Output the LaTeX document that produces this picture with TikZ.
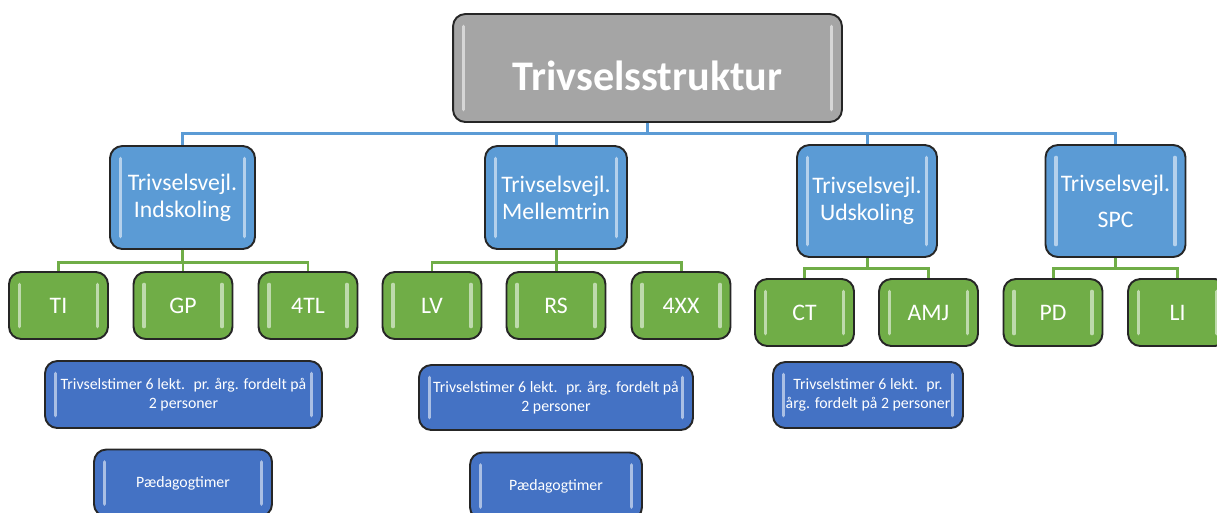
\documentclass[tikz,border=0pt]{standalone}
\usepackage{fontspec}
\setmainfont{Carlito}
\usetikzlibrary{positioning}
\definecolor{topgray}{HTML}{A5A5A5}
\definecolor{vejlblue}{HTML}{5B9BD5}
\definecolor{persgreen}{HTML}{70AD47}
\definecolor{timeblue}{HTML}{4472C4}
\tikzset{
  box/.style={draw=black!85, line width=1.1pt, rounded corners=7pt, align=center,
    text=white, inner sep=0pt,
    path picture={
      \draw[white, opacity=.55, line width=1.8pt, line cap=round]
        ([xshift=6pt,yshift=-7pt]path picture bounding box.north west)
          -- ([xshift=6pt,yshift=7pt]path picture bounding box.south west)
        ([xshift=-6pt,yshift=-7pt]path picture bounding box.north east)
          -- ([xshift=-6pt,yshift=7pt]path picture bounding box.south east);}},
  topbox/.style={box, fill=topgray, minimum width=7.78cm, minimum height=2.16cm,
    font=\fontsize{24}{28}\selectfont\bfseries, text height=25.7pt, text depth=0pt},
  vejlbox/.style={box, fill=vejlblue, font=\fontsize{13.5}{15.5}\selectfont},
  persbox/.style={box, fill=persgreen, minimum width=1.98cm, minimum height=1.34cm,
    font=\fontsize{13.5}{16}\selectfont},
  timebox/.style={box, fill=timeblue, minimum height=1.34cm,
    font=\fontsize{9}{10.5}\selectfont},
  bluelink/.style={draw=vejlblue, line width=1.7pt},
  greenlink/.style={draw=persgreen, line width=1.7pt}
}
\begin{document}
\begin{tikzpicture}[x=0.02cm, y=-0.02cm]
  \useasboundingbox (0,0) rectangle (1217,512);
  \clip (0,0) rectangle (1217,512);

  % top
  \node[topbox] (top) at (647.5,68) {Trivselsstruktur};
  \path (top.south) ++(0,11) coordinate (hub);

  % trivselsvejledere
  \node[vejlbox, minimum width=2.9cm, minimum height=2.06cm] (ind) at (182.5,197.5)
    {Trivselsvejl.\\Indskoling};
  \node[vejlbox, minimum width=2.84cm, minimum height=2.06cm] (mel) at (556,197.5)
    {Trivselsvejl.\\Mellemtrin};
  \node[vejlbox, minimum width=2.8cm, minimum height=2.24cm] (uds) at (867,201)
    {Trivselsvejl.\\Udskoling};
  \node[vejlbox, minimum width=2.8cm, minimum height=2.24cm] (spc) at (1115.5,201)
    {Trivselsvejl.\\[5pt]SPC};
  \foreach \v in {ind,mel,uds,spc}
    \draw[bluelink] (top.south) -- (hub) -| (\v.north);

  % personer
  \node[persbox] (ti) at (58.5,305.5) {TI};
  \node[persbox] (gp) at (183,305.5) {GP};
  \node[persbox] (tl) at (308,305.5) {4TL};
  \node[persbox] (lv) at (432,305.5) {LV};
  \node[persbox] (rs) at (556,305.5) {RS};
  \node[persbox] (xx) at (681,305.5) {4XX};
  \node[persbox] (ct) at (804.5,312.5) {CT};
  \node[persbox] (amj) at (928.5,312.5) {AMJ};
  \node[persbox] (pd) at (1053,312.5) {PD};
  \node[persbox] (li) at (1177.5,312.5) {LI};
  \foreach \p in {ti,gp,tl}
    \draw[greenlink] (ind.south) -- ++(0,13) -| (\p.north);
  \foreach \p in {lv,rs,xx}
    \draw[greenlink] (mel.south) -- ++(0,13) -| (\p.north);
  \foreach \p in {ct,amj}
    \draw[greenlink] (uds.south) -- ++(0,11) -| (\p.north);
  \foreach \p in {pd,li}
    \draw[greenlink] (spc.south) -- ++(0,11) -| (\p.north);

  % timer
  \node[timebox, minimum width=5.54cm] (indtimer) at (183.5,394.5)
    {Trivselstimer 6 lekt.~ pr. årg. fordelt på\\2 personer};
  \node[timebox, minimum width=3.56cm] (indpaed) at (183,483) {Pædagogtimer};
  \node[timebox, minimum width=5.48cm, minimum height=1.3cm] (meltimer) at (556,397.5)
    {Trivselstimer 6 lekt.~ pr. årg. fordelt på\\2 personer};
  \node[timebox, minimum width=3.44cm] (melpaed) at (556,486) {Pædagogtimer};
  \node[timebox, minimum width=3.8cm, minimum height=1.32cm] (udstimer) at (868,395)
    {Trivselstimer 6 lekt.~ pr.\\årg. fordelt på 2 personer};
\end{tikzpicture}
\end{document}
